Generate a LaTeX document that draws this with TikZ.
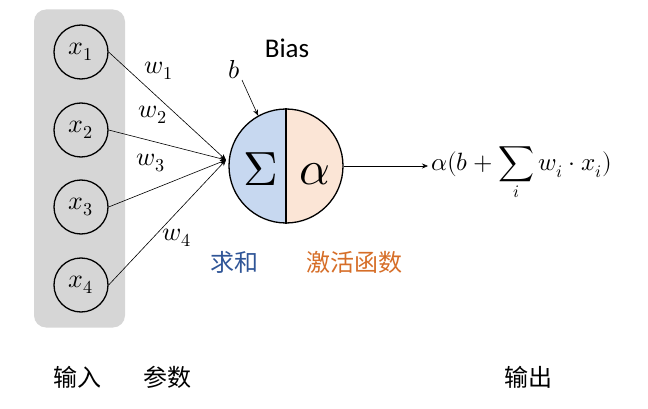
\documentclass[tikz,border=0pt]{standalone}
\usepackage{fontspec}
\usepackage{unicode-math}
\setmathfont{Latin Modern Math}
\setsansfont{Carlito}
\newfontfamily\cjk{Noto Sans CJK SC}
\usetikzlibrary{arrows.meta}
\definecolor{boxgray}{RGB}{214,214,214}
\definecolor{sumblue}{RGB}{199,216,240}
\definecolor{actpeach}{RGB}{251,229,214}
\definecolor{lblblue}{RGB}{47,85,151}
\definecolor{lblorange}{RGB}{214,110,40}
\tikzset{
  inp/.style={circle, draw, line width=1.3pt, minimum size=54pt, inner sep=0pt, font=\fontsize{26}{30}\selectfont},
  wlbl/.style={font=\fontsize{26}{30}\selectfont, inner sep=0pt},
  conn/.style={line width=0.6pt, -{Stealth[length=6pt,width=5pt]}},
  cjklbl/.style={font=\cjk\fontsize{24}{28}\selectfont, inner sep=0pt},
}
\begin{document}
\begin{tikzpicture}[x=1pt,y=-1pt]
\useasboundingbox (0,0) rectangle (648,409);
\node[fill=boxgray, rounded corners=12pt, minimum width=91pt, minimum height=318pt, inner sep=0pt] (box) at (79.5,168.5) {};
\node[inp] (x1) at (81,52) {$x_1$};
\node[inp] (x2) at (81,130) {$x_2$};
\node[inp] (x3) at (81,207) {$x_3$};
\node[inp] (x4) at (81,285) {$x_4$};
% neuron halves
\begin{scope}
\clip (286,166) circle (57pt);
\fill[sumblue] (228,105) rectangle (286,228);
\fill[actpeach] (286,105) rectangle (345,228);
\end{scope}
\node[circle, draw, line width=1.3pt, minimum size=114pt, inner sep=0pt] (n) at (286,166) {};
\draw[line width=1.3pt] (n.north) -- (n.south);
\node[font=\fontsize{48}{52}\selectfont, inner sep=0pt] (sig) at (261,169) {$\Sigma$};
\node[font=\fontsize{48}{52}\selectfont, inner sep=0pt] (alp) at (315,174) {$\alpha$};
\coordinate (conv) at (226,160);
\draw[conn] (x1.east) -- (conv);
\draw[conn] (x2.east) -- (conv);
\draw[conn] (x3.east) -- (conv);
\draw[conn] (x4.east) -- (conv);
\node[wlbl] (w1) at (159,71) {$w_1$};
\node[wlbl] (w2) at (153,115) {$w_2$};
\node[wlbl] (w3) at (151,163) {$w_3$};
\node[wlbl] (w4) at (177,238) {$w_4$};
\node[font=\sffamily\fontsize{27}{31}\selectfont, inner sep=0pt] (bias) at (287,48) {Bias};
\node[wlbl] (b) at (234,70) {$b$};
\draw[conn] (242,80) -- (n.119);
\node[anchor=base west, inner sep=0pt, font=\fontsize{25}{29}\selectfont] (out) at (431,171) {$\displaystyle \alpha(b+\sum_i w_i\cdot x_i)$};
\draw[conn] (n.east) -- (428,166);
\node[cjklbl, text=lblblue] (qiuhe) at (234,262) {求和};
\node[cjklbl, text=lblorange] (jihuo) at (354,262) {激活函数};
\node[cjklbl] (shuru) at (77,377) {输入};
\node[cjklbl] (canshu) at (167,377) {参数};
\node[cjklbl] (shuchu) at (528,377) {输出};
\end{tikzpicture}
\end{document}
